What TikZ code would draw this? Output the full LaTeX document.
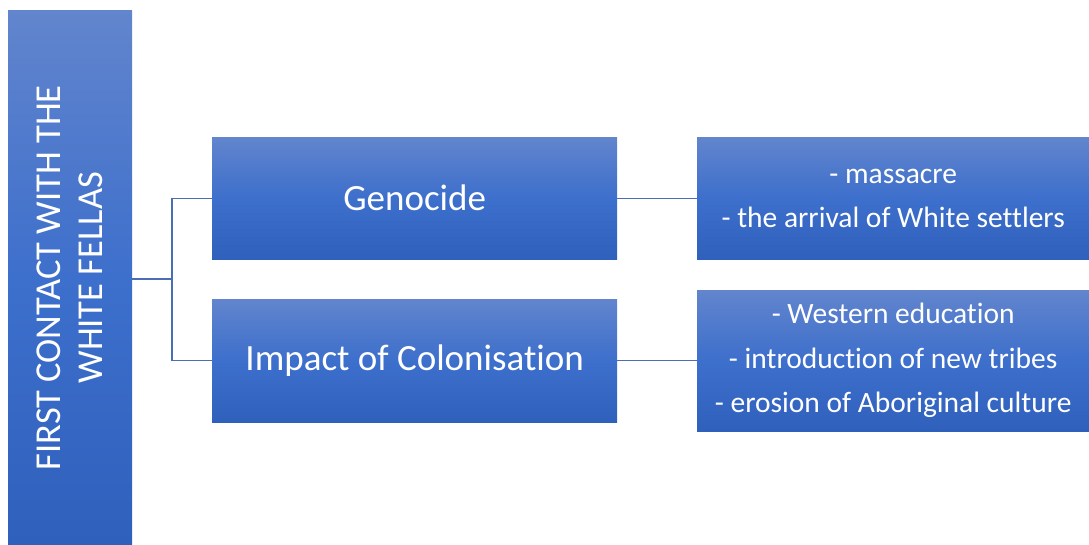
\documentclass[tikz,border=0pt]{standalone}
\usepackage{fontspec}
\setmainfont{Carlito}[Ligatures=NoCommon]
\definecolor{gtop}{HTML}{6285CD}
\definecolor{gmid}{HTML}{3D6FCC}
\definecolor{gbot}{HTML}{2F60BC}
\definecolor{link}{HTML}{4A6DB3}
\tikzset{
  panel/.style={rectangle, inner sep=0pt, anchor=north west, text=white,
    top color=gtop, bottom color=gbot, middle color=gmid, draw=none, align=center},
  wire/.style={draw=link, line width=1.1pt}
}
\begin{document}
\begin{tikzpicture}[x=1pt,y=-1pt]
  \useasboundingbox (0,0) rectangle (1089,545);
  % root panel with vertical title
  \node[panel, minimum width=124pt, minimum height=535pt] (root) at (8,10) {};
  \node[text=white, rotate=90, align=center, font=\fontsize{36.5}{42}\selectfont] (roottxt) at (root.center) {FIRST CONTACT WITH THE\\WHITE FELLAS};
  % second level
  \node[panel, minimum width=405pt, minimum height=122pt, font=\fontsize{37}{42}\selectfont] (gen) at (212,137) {Genocide};
  \node[panel, minimum width=405pt, minimum height=123pt, font=\fontsize{37}{42}\selectfont] (imp) at (212,299) {Impact of Colonisation};
  % third level
  \node[panel, minimum width=392pt, minimum height=122pt, font=\fontsize{29.5}{44}\selectfont] (genl) at (697,137) {- massacre\\- the arrival of White settlers};
  \node[panel, minimum width=392pt, minimum height=141pt, font=\fontsize{29.5}{44.5}\selectfont] (impl) at (697,290) {- Western education\\- introduction of new tribes\\- erosion of Aboriginal culture};
  % connectors
  \coordinate (fork) at (172,279);
  \draw[wire] (root.east |- fork) -- (fork);
  \draw[wire] (fork) |- (gen.west);
  \draw[wire] (fork) |- (imp.west);
  \draw[wire] (gen.east) -- (gen.east -| genl.west);
  \draw[wire] (imp.east) -- (imp.east -| impl.west);
\end{tikzpicture}
\end{document}
